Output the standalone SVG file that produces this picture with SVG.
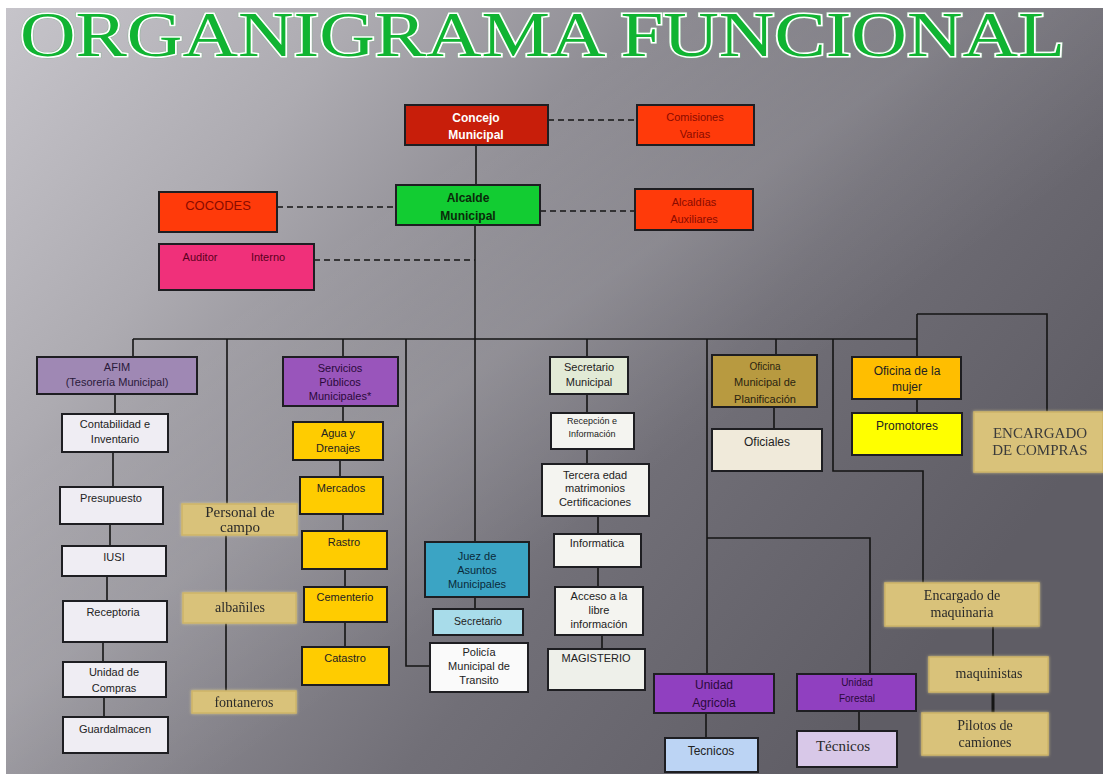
<svg xmlns="http://www.w3.org/2000/svg" width="1103" height="774" viewBox="0 0 1103 774">
<defs>
<linearGradient id="bg" x1="0" y1="0" x2="1" y2="0.55">
<stop offset="0" stop-color="#c6c4ca"/>
<stop offset="0.25" stop-color="#adabb1"/>
<stop offset="0.45" stop-color="#8f8d94"/>
<stop offset="0.7" stop-color="#716f77"/>
<stop offset="1" stop-color="#5f5d65"/>
</linearGradient>
<linearGradient id="band" x1="0" y1="0" x2="1" y2="1">
<stop offset="0.3" stop-color="#ffffff" stop-opacity="0"/>
<stop offset="0.45" stop-color="#ffffff" stop-opacity="0.10"/>
<stop offset="0.6" stop-color="#ffffff" stop-opacity="0"/>
</linearGradient>
<filter id="glow" x="-10%" y="-20%" width="120%" height="140%">
<feGaussianBlur in="SourceAlpha" stdDeviation="1.5" result="b"/>
<feFlood flood-color="#e8d890" flood-opacity="0.8"/>
<feComposite in2="b" operator="in" result="g"/>
<feMerge><feMergeNode in="g"/><feMergeNode in="SourceGraphic"/></feMerge>
</filter>
</defs>
<style>
.box{stroke:#1e1e22;stroke-width:2}
.tan{fill:#d9c27a;stroke:#cdb468;stroke-width:1.5}
.t{font-family:"Liberation Sans",Arial,sans-serif;font-size:11px;text-anchor:middle;fill:#222}
.s{font-family:"Liberation Serif","Times New Roman",serif;font-size:14px;text-anchor:middle;fill:#2a2a2a}
.c line,.c polyline{stroke:#151515;stroke-width:1.6;fill:none}
.c .d{stroke-dasharray:6 4}
.title{font-family:"Liberation Serif","Times New Roman",serif;font-size:64px}
</style>
<rect x="0" y="0" width="1103" height="774" fill="#ffffff"/>
<rect x="6" y="8" width="1097" height="766" fill="url(#bg)"/>
<rect x="6" y="8" width="1097" height="766" fill="url(#band)"/>

<g id="title">
<text class="title" x="20" y="56" textLength="1045" lengthAdjust="spacingAndGlyphs" fill="none" stroke="#7fb88a" stroke-width="4" stroke-opacity="0.6">ORGANIGRAMA FUNCIONAL</text>
<text class="title" x="20" y="56" textLength="1045" lengthAdjust="spacingAndGlyphs" fill="#10b432" stroke="#ffffff" stroke-width="3" paint-order="stroke">ORGANIGRAMA FUNCIONAL</text>
</g>

<g id="connectors" class="c">
<line x1="476" y1="145" x2="476" y2="185"/>
<line x1="475" y1="225" x2="475" y2="542"/>
<line class="d" x1="548" y1="120" x2="637" y2="120"/>
<line class="d" x1="277" y1="207" x2="396" y2="207"/>
<line class="d" x1="540" y1="211" x2="635" y2="211"/>
<line class="d" x1="314" y1="260" x2="475" y2="260"/>
<line x1="133" y1="339" x2="917" y2="339"/>
<line x1="133" y1="339" x2="133" y2="357"/>
<line x1="227" y1="339" x2="227" y2="504"/>
<line x1="343" y1="339" x2="343" y2="357"/>
<polyline points="406,339 406,666 430,666"/>
<line x1="587" y1="339" x2="587" y2="357"/>
<line x1="707" y1="339" x2="707" y2="674"/>
<line x1="776" y1="339" x2="776" y2="355"/>
<polyline points="833,339 833,471 923,471 923,583"/>
<line x1="917" y1="314" x2="917" y2="357"/>
<polyline points="917,314 1047,314 1047,412"/>
<line x1="115" y1="394" x2="115" y2="414"/>
<line x1="113" y1="452" x2="113" y2="487"/>
<line x1="110" y1="524" x2="110" y2="546"/>
<line x1="107" y1="576" x2="107" y2="601"/>
<line x1="103" y1="642" x2="103" y2="662"/>
<line x1="104" y1="697" x2="104" y2="717"/>
<line x1="226" y1="535" x2="226" y2="593"/>
<line x1="226" y1="623" x2="226" y2="691"/>
<line x1="343" y1="406" x2="343" y2="422"/>
<line x1="340" y1="460" x2="340" y2="477"/>
<line x1="343" y1="514" x2="343" y2="531"/>
<line x1="345" y1="569" x2="345" y2="587"/>
<line x1="345" y1="622" x2="345" y2="647"/>
<line x1="475" y1="597" x2="475" y2="609"/>
<line x1="587" y1="394" x2="587" y2="413"/>
<line x1="587" y1="449" x2="587" y2="464"/>
<line x1="598" y1="516" x2="598" y2="534"/>
<line x1="598" y1="567" x2="598" y2="587"/>
<line x1="602" y1="635" x2="602" y2="649"/>
<line x1="774" y1="407" x2="774" y2="429"/>
<line x1="917" y1="399" x2="917" y2="413"/>
<polyline points="707,538 870,538 870,674"/>
<line x1="706" y1="713" x2="706" y2="738"/>
<line x1="859" y1="711" x2="859" y2="731"/>
<line x1="993" y1="626" x2="993" y2="657"/>
<line x1="993" y1="692" x2="993" y2="713" style="stroke-width:3"/>
</g>

<g id="concejo"><rect class="box" x="405" y="105" width="143" height="40" fill="#c81e0a"/>
<text class="t" x="476" y="122" style="fill:#fff;font-weight:bold;font-size:12px">Concejo</text>
<text class="t" x="476" y="139" style="fill:#fff;font-weight:bold;font-size:12px">Municipal</text></g>

<g id="comisiones"><rect class="box" x="637" y="105" width="117" height="40" fill="#ff3a0a"/>
<text class="t" x="695" y="121" style="fill:#8a0a00">Comisiones</text>
<text class="t" x="695" y="138" style="fill:#8a0a00">Varias</text></g>

<g id="alcalde"><rect class="box" x="396" y="185" width="144" height="40" fill="#12cc32"/>
<text class="t" x="468" y="202" style="fill:#0a2a0a;font-weight:bold;font-size:12px">Alcalde</text>
<text class="t" x="468" y="220" style="fill:#0a2a0a;font-weight:bold;font-size:12px">Municipal</text></g>

<g id="cocodes"><rect class="box" x="159" y="192" width="118" height="40" fill="#ff3a0a"/>
<text class="t" x="218" y="210" style="fill:#8a0a00;font-size:13px">COCODES</text></g>

<g id="alcaldias"><rect class="box" x="635" y="189" width="118" height="41" fill="#ff3a0a"/>
<text class="t" x="694" y="206" style="fill:#8a0a00">Alcaldías</text>
<text class="t" x="694" y="223" style="fill:#8a0a00">Auxiliares</text></g>

<g id="auditor"><rect class="box" x="159" y="244" width="155" height="46" fill="#f0307a"/>
<text class="t" x="200" y="261" style="fill:#5a0020">Auditor</text>
<text class="t" x="268" y="261" style="fill:#5a0020">Interno</text></g>

<g id="afim"><rect class="box" x="37" y="357" width="160" height="37" fill="#9f88b4"/>
<text class="t" x="117" y="371" style="fill:#2a1a3a">AFIM</text>
<text class="t" x="117" y="386" style="fill:#2a1a3a">(Tesorería Municipal)</text></g>

<g id="contabilidad"><rect class="box" x="62" y="414" width="106" height="38" fill="#efedf3"/>
<text class="t" x="115" y="428">Contabilidad e</text>
<text class="t" x="115" y="443">Inventario</text></g>

<g id="presupuesto"><rect class="box" x="60" y="487" width="103" height="37" fill="#efedf3"/>
<text class="t" x="111" y="502">Presupuesto</text></g>

<g id="iusi"><rect class="box" x="62" y="546" width="104" height="30" fill="#efedf3"/>
<text class="t" x="114" y="561">IUSI</text></g>

<g id="receptoria"><rect class="box" x="63" y="601" width="104" height="41" fill="#efedf3"/>
<text class="t" x="113" y="616">Receptoria</text></g>

<g id="unidad-compras"><rect class="box" x="63" y="662" width="103" height="35" fill="#efedf3"/>
<text class="t" x="114" y="676">Unidad de</text>
<text class="t" x="114" y="692">Compras</text></g>

<g id="guardalmacen"><rect class="box" x="63" y="717" width="105" height="36" fill="#efedf3"/>
<text class="t" x="115" y="733">Guardalmacen</text></g>

<g id="personal-campo" filter="url(#glow)"><rect class="tan" x="182" y="504" width="115" height="31"/>
<text class="s" x="240" y="517" style="font-size:15px">Personal de</text>
<text class="s" x="240" y="532" style="font-size:15px">campo</text></g>

<g id="albaniles" filter="url(#glow)"><rect class="tan" x="183" y="593" width="113" height="30"/>
<text class="s" x="240" y="612">albañiles</text></g>

<g id="fontaneros" filter="url(#glow)"><rect class="tan" x="192" y="691" width="104" height="22"/>
<text class="s" x="244" y="707">fontaneros</text></g>

<g id="servicios"><rect class="box" x="283" y="357" width="115" height="49" fill="#9955bb"/>
<text class="t" x="340" y="372" style="fill:#2a0a3a">Servicios</text>
<text class="t" x="340" y="386" style="fill:#2a0a3a">Públicos</text>
<text class="t" x="340" y="400" style="fill:#2a0a3a">Municipales*</text></g>

<g id="agua"><rect class="box" x="293" y="422" width="90" height="38" fill="#ffcc00"/>
<text class="t" x="338" y="437">Agua y</text>
<text class="t" x="338" y="452">Drenajes</text></g>

<g id="mercados"><rect class="box" x="300" y="477" width="83" height="37" fill="#ffcc00"/>
<text class="t" x="341" y="492">Mercados</text></g>

<g id="rastro"><rect class="box" x="302" y="531" width="85" height="38" fill="#ffcc00"/>
<text class="t" x="344" y="546">Rastro</text></g>

<g id="cementerio"><rect class="box" x="304" y="587" width="83" height="35" fill="#ffcc00"/>
<text class="t" x="345" y="601">Cementerio</text></g>

<g id="catastro"><rect class="box" x="302" y="647" width="87" height="38" fill="#ffcc00"/>
<text class="t" x="345" y="662">Catastro</text></g>

<g id="juez"><rect class="box" x="425" y="542" width="104" height="55" fill="#3ba4c4"/>
<text class="t" x="477" y="560" style="fill:#0a2a3a">Juez de</text>
<text class="t" x="477" y="574" style="fill:#0a2a3a">Asuntos</text>
<text class="t" x="477" y="588" style="fill:#0a2a3a">Municipales</text></g>

<g id="secretario-juez"><rect class="box" x="433" y="609" width="90" height="26" fill="#a8dcea"/>
<text class="t" x="478" y="625" style="font-size:10.5px">Secretario</text></g>

<g id="policia"><rect class="box" x="430" y="643" width="98" height="49" fill="#fafafa"/>
<text class="t" x="479" y="656">Policía</text>
<text class="t" x="479" y="670">Municipal de</text>
<text class="t" x="479" y="684">Transito</text></g>

<g id="secretario-municipal"><rect class="box" x="550" y="357" width="78" height="37" fill="#e2ead6"/>
<text class="t" x="589" y="371">Secretario</text>
<text class="t" x="589" y="386">Municipal</text></g>

<g id="recepcion"><rect class="box" x="551" y="413" width="83" height="36" fill="#f4f4f0"/>
<text class="t" x="592" y="424" style="font-size:9px">Recepción e</text>
<text class="t" x="592" y="437" style="font-size:9px">Información</text></g>

<g id="tercera-edad"><rect class="box" x="542" y="464" width="107" height="52" fill="#f4f4f0"/>
<text class="t" x="595" y="479">Tercera edad</text>
<text class="t" x="595" y="492">matrimonios</text>
<text class="t" x="595" y="506">Certificaciones</text></g>

<g id="informatica"><rect class="box" x="554" y="534" width="87" height="33" fill="#f4f4f0"/>
<text class="t" x="597" y="547">Informatica</text></g>

<g id="acceso"><rect class="box" x="555" y="587" width="88" height="48" fill="#f4f4f0"/>
<text class="t" x="599" y="600">Acceso a la</text>
<text class="t" x="599" y="614">libre</text>
<text class="t" x="599" y="628">información</text></g>

<g id="magisterio"><rect class="box" x="548" y="649" width="97" height="41" fill="#eef0ea"/>
<text class="t" x="596" y="662">MAGISTERIO</text></g>

<g id="planificacion"><rect class="box" x="712" y="355" width="105" height="52" fill="#b89a40"/>
<text class="t" x="765" y="370" style="font-size:10px;fill:#2a2410">Oficina</text>
<text class="t" x="765" y="386" style="fill:#2a2410">Municipal de</text>
<text class="t" x="765" y="403" style="fill:#2a2410">Planificación</text></g>

<g id="oficiales"><rect class="box" x="712" y="429" width="110" height="42" fill="#f0eada"/>
<text class="t" x="767" y="446" style="font-size:12px">Oficiales</text></g>

<g id="oficina-mujer"><rect class="box" x="852" y="357" width="109" height="42" fill="#ffbe00"/>
<text class="t" x="907" y="375" style="font-size:12px">Oficina de la</text>
<text class="t" x="907" y="391" style="font-size:12px">mujer</text></g>

<g id="promotores"><rect class="box" x="852" y="413" width="110" height="42" fill="#ffff00"/>
<text class="t" x="907" y="430" style="font-size:12px">Promotores</text></g>

<g id="encargado-compras" filter="url(#glow)"><rect class="tan" x="974" y="412" width="129" height="60"/>
<text class="s" x="1040" y="438" style="font-size:15px;fill:#3a3a3a">ENCARGADO</text>
<text class="s" x="1040" y="455" style="font-size:15px;fill:#3a3a3a">DE COMPRAS</text></g>

<g id="unidad-agricola"><rect class="box" x="654" y="674" width="120" height="39" fill="#9040c0"/>
<text class="t" x="714" y="689" style="font-size:12px;fill:#2a0a3a">Unidad</text>
<text class="t" x="714" y="707" style="font-size:12px;fill:#2a0a3a">Agricola</text></g>

<g id="tecnicos-agricola"><rect class="box" x="665" y="738" width="93" height="34" fill="#bcd4f4"/>
<text class="t" x="711" y="755" style="font-size:12px">Tecnicos</text></g>

<g id="unidad-forestal"><rect class="box" x="797" y="674" width="119" height="37" fill="#9040c0"/>
<text class="t" x="857" y="686" style="font-size:10px;fill:#2a0a3a">Unidad</text>
<text class="t" x="857" y="702" style="font-size:10px;fill:#2a0a3a">Forestal</text></g>

<g id="tecnicos-forestal"><rect class="box" x="797" y="731" width="100" height="36" fill="#d8c8e8"/>
<text class="s" x="843" y="751" style="font-size:15px">Técnicos</text></g>

<g id="encargado-maquinaria" filter="url(#glow)"><rect class="tan" x="885" y="583" width="154" height="43"/>
<text class="s" x="962" y="600">Encargado de</text>
<text class="s" x="962" y="617">maquinaria</text></g>

<g id="maquinistas" filter="url(#glow)"><rect class="tan" x="929" y="657" width="119" height="35"/>
<text class="s" x="989" y="678">maquinistas</text></g>

<g id="pilotos" filter="url(#glow)"><rect class="tan" x="922" y="713" width="126" height="42"/>
<text class="s" x="985" y="730">Pilotos de</text>
<text class="s" x="985" y="747">camiones</text></g>
</svg>
